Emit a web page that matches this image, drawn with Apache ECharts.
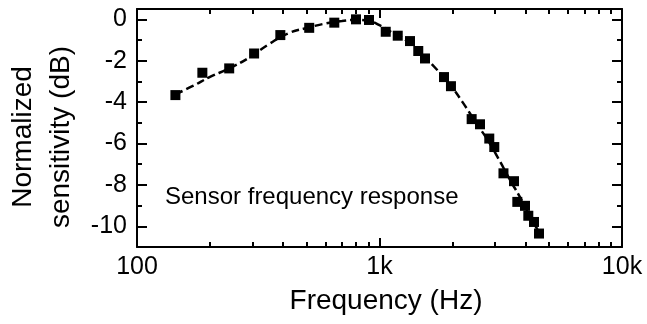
<!DOCTYPE html>
<html><head><meta charset="utf-8">
<script src="https://cdn.jsdelivr.net/npm/echarts@6/dist/echarts.min.js"></script>
<style>html,body{margin:0;padding:0;background:#fff}#c{width:647px;height:324px}</style>
</head><body><div id="c"></div>
<script>
// measured points (frequency in Hz, normalized sensitivity in dB)
const measFreq = [144, 186, 240, 304, 390, 513, 651, 800, 905, 1061, 1189, 1336, 1445, 1540, 1845, 1971, 2399, 2597, 2836, 2974, 3245, 3586, 3701, 3981, 4108, 4336, 4548];
const measDb   = [-3.66, -2.58, -2.37, -1.65, -0.76, -0.41, -0.16, 0.0, -0.03, -0.6, -0.79, -1.05, -1.53, -1.89, -2.79, -3.23, -4.82, -5.07, -5.76, -6.17, -7.44, -7.82, -8.82, -9.01, -9.49, -9.79, -10.35];
// fitted response curve (dashed)
const fitFreq = [144, 170, 200, 240, 290, 350, 420, 500, 600, 700, 800, 900, 1000, 1150, 1300, 1500, 1700, 1950, 2200, 2500, 2800, 3100, 3450, 3800, 4150, 4550];
const fitDb   = [-3.62, -3.22, -2.78, -2.37, -1.85, -1.2, -0.68, -0.42, -0.2, -0.08, -0.03, -0.08, -0.28, -0.7, -1.05, -1.7, -2.35, -3.15, -4.0, -5.0, -5.85, -6.75, -7.75, -8.6, -9.45, -10.3];
// axes
const xMajorTicks = [100, 1000, 10000];
const xTickLabels = ['100', '1k', '10k'];
const xMinorTicks = [200, 300, 400, 500, 600, 700, 800, 900, 2000, 3000, 4000, 5000, 6000, 7000, 8000, 9000];
const yMajorTicks = [-10, -8, -6, -4, -2, 0];
const yMinorTicks = [-9, -7, -5, -3, -1];
const xTitle = 'Frequency (Hz)';
const yTitle = 'Normalized\nsensitivity (dB)';
const noteText = 'Sensor frequency response';

const FONT = "'Liberation Sans', Arial, Helvetica, sans-serif";
const BLACK = '#000';

function xAxisDef(pos, ticks, len, labels, showLine) {
  return {
    type: 'log', logBase: 10, min: 100, max: 10000, position: pos, gridIndex: 0,
    axisLine: { show: showLine, onZero: false, lineStyle: { color: BLACK, width: 2 } },
    axisTick: { show: true, inside: true, length: len, customValues: ticks, lineStyle: { color: BLACK, width: 2 } },
    axisLabel: labels ? {
      show: true, customValues: ticks, margin: 8, color: BLACK, fontSize: 25, fontFamily: FONT,
      showMinLabel: true, showMaxLabel: true,
      formatter: function (v) {
        let best = 0;
        for (let i = 0; i < xMajorTicks.length; i++) {
          if (Math.abs(Math.log10(xMajorTicks[i]) - Math.log10(v)) < Math.abs(Math.log10(xMajorTicks[best]) - Math.log10(v))) best = i;
        }
        return xTickLabels[best];
      }
    } : { show: false },
    splitLine: { show: false }, minorTick: { show: false }, minorSplitLine: { show: false }
  };
}
// minor-tick decoration axes for the log scale: plain value axes over log10(frequency)
function xMinorAxisDef(pos, ticks, len) {
  return {
    type: 'value', min: Math.log10(xMajorTicks[0]), max: Math.log10(xMajorTicks[xMajorTicks.length - 1]),
    position: pos, gridIndex: 0,
    axisLine: { show: false, onZero: false },
    axisTick: { show: true, inside: true, length: len, customValues: ticks.map(Math.log10), lineStyle: { color: BLACK, width: 2 } },
    axisLabel: { show: false }, splitLine: { show: false }
  };
}
function yAxisDef(pos, ticks, len, labels, showLine) {
  return {
    type: 'value', min: -11, max: 0.5, position: pos, gridIndex: 0,
    axisLine: { show: showLine, onZero: false, lineStyle: { color: BLACK, width: 2 } },
    axisTick: { show: true, inside: true, length: len, customValues: ticks, lineStyle: { color: BLACK, width: 2 } },
    axisLabel: labels ? { show: true, customValues: ticks, margin: 10, color: BLACK, fontSize: 25, fontFamily: FONT } : { show: false },
    splitLine: { show: false }
  };
}

const chart = echarts.init(document.getElementById('c'), null, { renderer: 'canvas' });
chart.setOption({
  animation: false,
  backgroundColor: '#fff',
  grid: { left: 137, right: 25, top: 9, bottom: 77, containLabel: false, outerBoundsMode: 'none' },
  xAxis: [
    xAxisDef('bottom', xMajorTicks, 9, true, true),
    xAxisDef('top', xMajorTicks, 9, false, true),
    xMinorAxisDef('bottom', xMinorTicks, 5),
    xMinorAxisDef('top', xMinorTicks, 5)
  ],
  yAxis: [
    yAxisDef('left', yMajorTicks, 10, true, true),
    yAxisDef('right', yMajorTicks, 10, false, true),
    yAxisDef('left', yMinorTicks, 5, false, false),
    yAxisDef('right', yMinorTicks, 5, false, false)
  ],
  series: [
    {
      type: 'line', xAxisIndex: 0, yAxisIndex: 0, smooth: 0.5, showSymbol: false, symbol: 'none',
      data: fitFreq.map((f, i) => [f, fitDb[i]]),
      lineStyle: { color: BLACK, width: 2.5, type: [8, 4], opacity: 1 }, z: 2
    },
    {
      type: 'scatter', xAxisIndex: 0, yAxisIndex: 0, symbol: 'rect', symbolSize: 10,
      data: measFreq.map((f, i) => [f, measDb[i]]),
      itemStyle: { color: BLACK, opacity: 1 }, z: 3
    }
  ],
  graphic: [
    { type: 'text', x: 42.5, y: 137, rotation: Math.PI / 2,
      style: { text: yTitle, fontSize: 28, fontFamily: FONT, fill: BLACK, align: 'center', verticalAlign: 'middle', lineHeight: 38 } },
    { type: 'text', x: 386, y: 301,
      style: { text: xTitle, fontSize: 28, fontFamily: FONT, fill: BLACK, align: 'center', verticalAlign: 'middle' } },
    { type: 'text', x: 165, y: 197,
      style: { text: noteText, fontSize: 24, fontFamily: FONT, fill: BLACK, align: 'left', verticalAlign: 'middle' } }
  ]
});
</script></body></html>
